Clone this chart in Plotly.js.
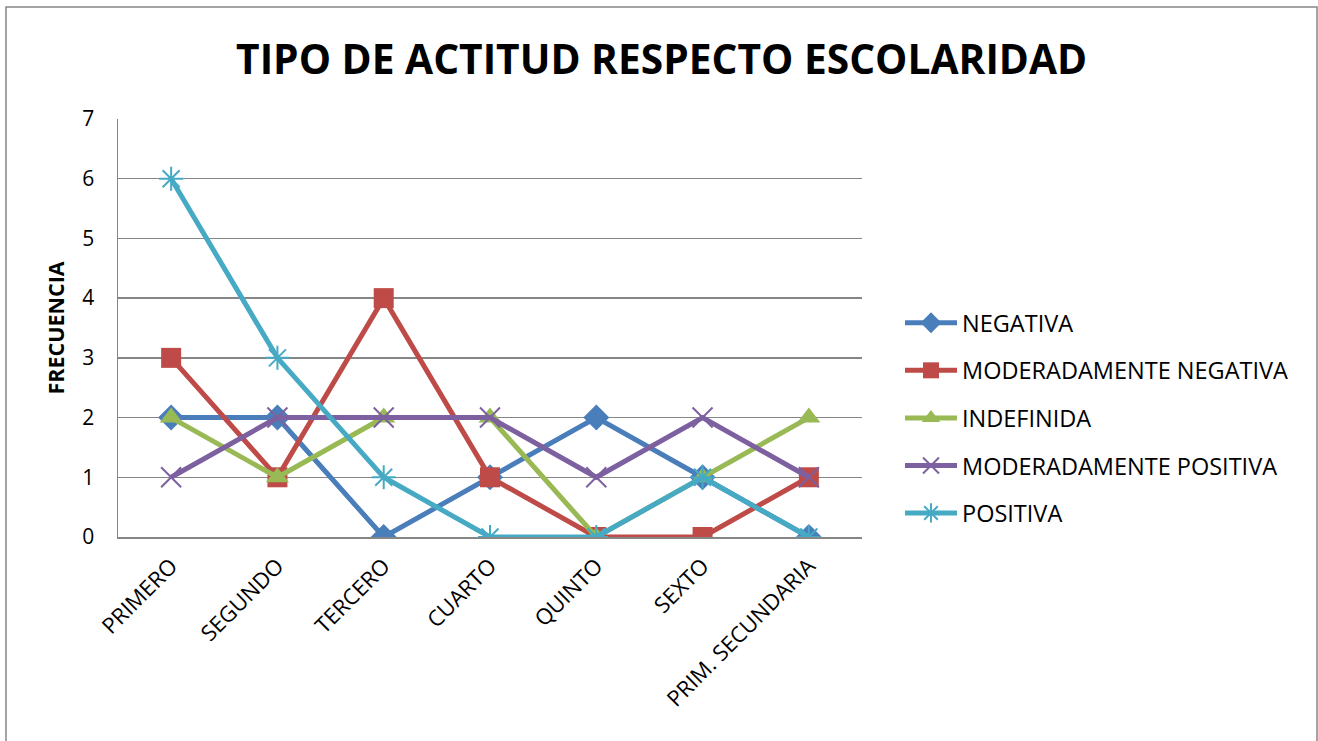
<!DOCTYPE html>
<html><head><meta charset="utf-8">
<script src="https://cdn.plot.ly/plotly-3.0.1.min.js"></script>
<style>body{margin:0;background:#fff}#chart{width:1318px;height:741px}</style>
</head><body><div id="chart"></div>
<script>
const categories = ["PRIMERO","SEGUNDO","TERCERO","CUARTO","QUINTO","SEXTO","PRIM. SECUNDARIA"];
const seriesNames = ["NEGATIVA","MODERADAMENTE NEGATIVA","INDEFINIDA","MODERADAMENTE POSITIVA","POSITIVA"];
const negativa = [2,2,0,1,2,1,0];
const modNegativa = [3,1,4,1,0,0,1];
const indefinida = [2,1,2,2,0,1,2];
const modPositiva = [1,2,2,2,1,2,1];
const positiva = [6,3,1,0,0,1,0];
const yTicks = [0,1,2,3,4,5,6,7];

const values = [negativa, modNegativa, indefinida, modPositiva, positiva];
const colors = ["#4A7EBB","#BE4B48","#98B954","#7D60A0","#46AAC5"];
const symbols = ["diamond","square","triangle-up","x-thin-open","asterisk-open"];
const msizes = [20,20,20,20,20];

const L=118, R=862, T=119, B=537, W=1318, H=741;
const pw = R-L, ph = B-T;

const traces = values.map((v,i)=>({
  type:'scatter', mode:'lines+markers', name:seriesNames[i],
  x:categories.map((c,k)=>k), y:v,
  line:{color:colors[i], width:5},
  marker:{symbol:symbols[i], size:msizes[i], color:colors[i], line:{color:colors[i], width:(i>=3?2:0)}},
  legendgroup:'g'+i
}));

const layout = {
  width:W, height:H,
  margin:{l:L, r:W-R, t:T, b:H-B, pad:0},
  paper_bgcolor:'#fff', plot_bgcolor:'#fff',
  font:{family:'"Open Sans", "Noto Sans", sans-serif', color:'#000'},
  title:{text:'<b>TIPO DE ACTITUD RESPECTO ESCOLARIDAD</b>', font:{size:40.7, family:'"Open Sans", sans-serif', color:'#000'},
         x:0.502, xref:'container', xanchor:'center', y:1-(60/H), yanchor:'middle'},
  xaxis:{range:[-0.5,6.5], tickmode:'array', tickvals:categories.map((c,k)=>k), ticktext:categories,
         tickangle:-45, tickfont:{size:22}, showgrid:false, zeroline:false,
         showline:true, linecolor:'#868686', linewidth:1.5, ticks:'outside', ticklen:6, tickcolor:'rgba(0,0,0,0)', fixedrange:true},
  yaxis:{range:[0,7], tickmode:'array', tickvals:yTicks, ticktext:yTicks.map(String), tickfont:{size:21},
         showgrid:true, gridcolor:'#868686', gridwidth:1.5, zeroline:false,
         showline:true, linecolor:'#868686', linewidth:1.5, ticks:'outside', ticklen:18, tickcolor:'rgba(0,0,0,0)',
         title:{text:'<b>FRECUENCIA</b>', font:{size:21.5}, standoff:12}},
  legend:{x:(900-L)/pw, xanchor:'left', y:1-((418-T)/ph), yanchor:'middle', font:{size:23.5},
          tracegroupgap:14, bgcolor:'rgba(0,0,0,0)', itemwidth:52},
  showlegend:true,
  shapes:[{type:'rect', xref:'paper', yref:'paper', x0:(6-L)/pw, x1:(1317-L)/pw, y0:(B-760)/ph, y1:(B-7)/ph,
           line:{color:'#868686', width:1.5}, fillcolor:'rgba(0,0,0,0)', layer:'below'}]
};
Plotly.newPlot('chart', traces, layout, {displayModeBar:false, staticPlot:true});
</script></body></html>
